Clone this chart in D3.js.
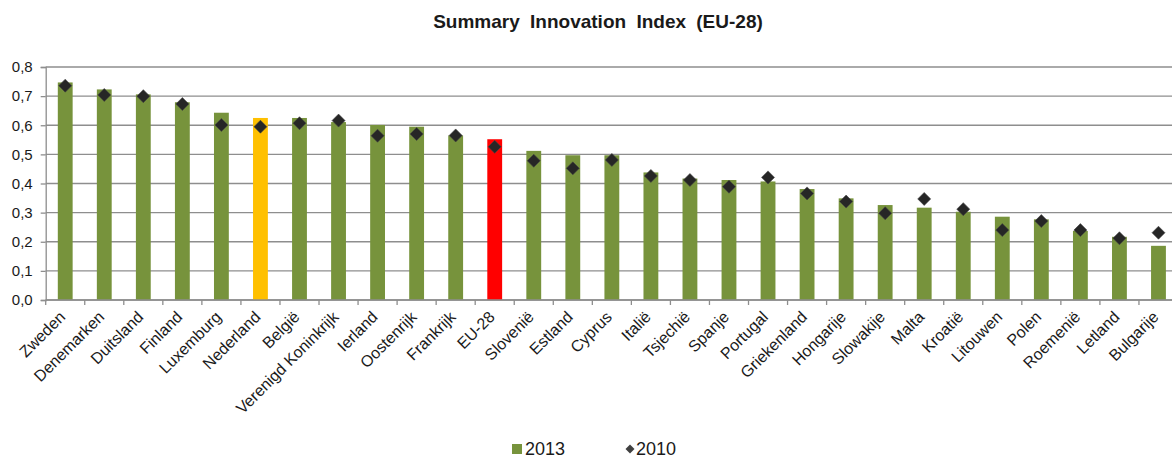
<!DOCTYPE html>
<html>
<head>
  <meta charset="utf-8">
  <title>Summary Innovation Index</title>
  <script src="https://cdnjs.cloudflare.com/ajax/libs/d3/7.8.5/d3.min.js"></script>
  <style>
    body { margin: 0; background: #fff; }
    text { font-family: "Liberation Sans", Arial, sans-serif; fill: #1a1a1a; }
  </style>
</head>
<body>
<script>
  // data
  var countries = ["Zweden", "Denemarken", "Duitsland", "Finland", "Luxemburg", "Nederland",
    "België", "Verenigd Koninkrijk", "Ierland", "Oostenrijk", "Frankrijk", "EU-28",
    "Slovenië", "Estland", "Cyprus", "Italië", "Tsjechië", "Spanje", "Portugal",
    "Griekenland", "Hongarije", "Slowakije", "Malta", "Kroatië", "Litouwen", "Polen",
    "Roemenië", "Letland", "Bulgarije"];
  var values2013 = [0.747, 0.723, 0.706, 0.679, 0.643, 0.625, 0.625, 0.611, 0.601, 0.595,
    0.565, 0.552, 0.512, 0.497, 0.497, 0.438, 0.417, 0.412, 0.407, 0.381, 0.349, 0.326,
    0.317, 0.303, 0.286, 0.277, 0.237, 0.217, 0.186];
  var values2010 = [0.736, 0.704, 0.700, 0.673, 0.601, 0.595, 0.607, 0.616, 0.564, 0.570,
    0.565, 0.526, 0.478, 0.452, 0.481, 0.426, 0.412, 0.389, 0.421, 0.366, 0.338, 0.298,
    0.347, 0.312, 0.240, 0.271, 0.240, 0.212, 0.231];
  var yTicks = [0, 0.1, 0.2, 0.3, 0.4, 0.5, 0.6, 0.7, 0.8];

  var width = 1172, height = 459;
  var plotLeft = 45.7, plotRight = 1178, plotTop = 67, plotBottom = 300;

  var svg = d3.select("body").append("svg")
    .attr("width", width)
    .attr("height", height);

  var x = d3.scaleBand()
    .domain(countries)
    .range([plotLeft, plotRight])
    .paddingInner(0.62)
    .paddingOuter(0.31);

  var y = d3.scaleLinear()
    .domain([0, 0.8])
    .range([plotBottom, plotTop]);

  var fmt = function(d){ return d3.format(".1f")(d).replace(".", ","); };

  // gridlines
  svg.append("g")
    .selectAll("line")
    .data(yTicks)
    .enter()
    .append("line")
    .attr("x1", plotLeft)
    .attr("x2", plotRight)
    .attr("y1", function(d){ return y(d); })
    .attr("y2", function(d){ return y(d); })
    .style("stroke", "#8e8e8e")
    .style("stroke-width", 1.3);

  // y axis
  var yAxis = svg.append("g")
    .attr("transform", "translate(" + plotLeft + ",0)")
    .call(d3.axisLeft(y).tickValues(yTicks).tickFormat(fmt).tickSize(5).tickPadding(8));
  yAxis.select(".domain").style("stroke", "#8e8e8e").style("stroke-width", 1.3);
  yAxis.selectAll(".tick line").style("stroke", "#8e8e8e").style("stroke-width", 1.3);
  yAxis.selectAll("text")
    .style("font-size", "15px")
    .style("fill", "#1a1a1a")
    .style("font-family", "'Liberation Sans', Arial, sans-serif");

  // bars (2013)
  svg.append("g")
    .selectAll("rect")
    .data(countries)
    .enter()
    .append("rect")
    .attr("x", function(d){ return x(d); })
    .attr("width", x.bandwidth())
    .attr("y", function(d, i){ return y(values2013[i]); })
    .attr("height", function(d, i){ return plotBottom - y(values2013[i]); })
    .style("fill", function(d){
      if (d === "Nederland") return "#ffc000";
      if (d === "EU-28") return "#ff0000";
      return "#77933c";
    });

  // x axis with ticks between categories
  var xaxis = svg.append("g");
  xaxis.append("line")
    .attr("x1", plotLeft).attr("x2", plotRight)
    .attr("y1", plotBottom).attr("y2", plotBottom)
    .style("stroke", "#8e8e8e")
    .style("stroke-width", 1.3);
  var step = x.step();
  xaxis.selectAll(".xtick")
    .data(d3.range(countries.length + 1))
    .enter()
    .append("line")
    .attr("class", "xtick")
    .attr("x1", function(i){ return plotLeft + i * step; })
    .attr("x2", function(i){ return plotLeft + i * step; })
    .attr("y1", plotBottom)
    .attr("y2", plotBottom + 5)
    .style("stroke", "#8e8e8e")
    .style("stroke-width", 1.3);

  xaxis.selectAll(".xlabel")
    .data(countries)
    .enter()
    .append("text")
    .attr("class", "xlabel")
    .attr("transform", function(d){
      var cx = x(d) + x.bandwidth() / 2 + 1;
      return "translate(" + cx + "," + (plotBottom + 18) + ") rotate(-45)";
    })
    .style("text-anchor", "end")
    .style("font-size", "16px")
    .text(function(d){ return d; });

  // diamonds (2010)
  var diamond = function(s){
    return "M0," + (-s) + "L" + s + ",0L0," + s + "L" + (-s) + ",0Z";
  };
  svg.append("g")
    .selectAll("path")
    .data(countries)
    .enter()
    .append("path")
    .attr("d", diamond(6.5))
    .attr("transform", function(d, i){
      return "translate(" + (x(d) + x.bandwidth() / 2) + "," + y(values2010[i]) + ")";
    })
    .style("fill", "#262626")
    .style("stroke", "#444")
    .style("stroke-width", 0.6);

  // title
  svg.append("text")
    .attr("x", 598)
    .attr("y", 28)
    .style("text-anchor", "middle")
    .style("font-size", "19px")
    .style("font-weight", "bold")
    .style("word-spacing", "5px")
    .text("Summary Innovation Index (EU-28)");

  // legend
  var legend = svg.append("g");
  legend.append("rect")
    .attr("x", 512).attr("y", 444)
    .attr("width", 10).attr("height", 10)
    .style("fill", "#77933c");
  legend.append("text")
    .attr("x", 525).attr("y", 455)
    .style("font-size", "18px")
    .text("2013");
  legend.append("path")
    .attr("d", diamond(4.5))
    .attr("transform", "translate(630,449)")
    .style("fill", "#404040");
  legend.append("text")
    .attr("x", 636).attr("y", 455)
    .style("font-size", "18px")
    .text("2010");
</script>
</body>
</html>
